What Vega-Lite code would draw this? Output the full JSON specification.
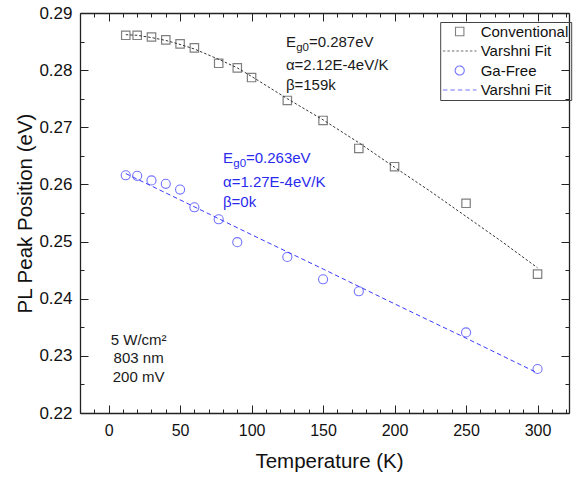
{
  "$schema": "https://vega.github.io/schema/vega-lite/v6.json",
  "width": 489,
  "height": 400,
  "autosize": {"type": "none"},
  "padding": {"left": 80, "top": 13, "right": 7, "bottom": 64},
  "config": {
    "font": "Liberation Sans",
    "view": {"stroke": null},
    "axis": {"grid": false, "domainColor": "#222", "domainWidth": 1.3, "tickColor": "#222", "tickWidth": 1, "labelColor": "#111", "titleColor": "#111", "labelFont": "Liberation Sans", "titleFont": "Liberation Sans", "titleFontWeight": "normal"},
    "legend": {"labelFont": "Liberation Sans"}
  },
  "datasets": {
    "points": [
      {"T": 12, "E": 0.2861, "series": "Conventional"},
      {"T": 20, "E": 0.2861, "series": "Conventional"},
      {"T": 30, "E": 0.2858, "series": "Conventional"},
      {"T": 40, "E": 0.2853, "series": "Conventional"},
      {"T": 50, "E": 0.2846, "series": "Conventional"},
      {"T": 60, "E": 0.2839, "series": "Conventional"},
      {"T": 77, "E": 0.2812, "series": "Conventional"},
      {"T": 90, "E": 0.2804, "series": "Conventional"},
      {"T": 100, "E": 0.2787, "series": "Conventional"},
      {"T": 125, "E": 0.2747, "series": "Conventional"},
      {"T": 150, "E": 0.2712, "series": "Conventional"},
      {"T": 175, "E": 0.2663, "series": "Conventional"},
      {"T": 200, "E": 0.2631, "series": "Conventional"},
      {"T": 250, "E": 0.2567, "series": "Conventional"},
      {"T": 300, "E": 0.2443, "series": "Conventional"},
      {"T": 12, "E": 0.2616, "series": "Ga-Free"},
      {"T": 20, "E": 0.2615, "series": "Ga-Free"},
      {"T": 30, "E": 0.2607, "series": "Ga-Free"},
      {"T": 40, "E": 0.2601, "series": "Ga-Free"},
      {"T": 50, "E": 0.2591, "series": "Ga-Free"},
      {"T": 60, "E": 0.2560, "series": "Ga-Free"},
      {"T": 77, "E": 0.2539, "series": "Ga-Free"},
      {"T": 90, "E": 0.2499, "series": "Ga-Free"},
      {"T": 125, "E": 0.2473, "series": "Ga-Free"},
      {"T": 150, "E": 0.2434, "series": "Ga-Free"},
      {"T": 175, "E": 0.2413, "series": "Ga-Free"},
      {"T": 250, "E": 0.2341, "series": "Ga-Free"},
      {"T": 300, "E": 0.2277, "series": "Ga-Free"}
    ],
    "fits": [
      {"T": 12, "E": 0.2862, "series": "Varshni Fit"},
      {"T": 20, "E": 0.2861, "series": "Varshni Fit"},
      {"T": 30, "E": 0.2857, "series": "Varshni Fit"},
      {"T": 40, "E": 0.2852, "series": "Varshni Fit"},
      {"T": 50, "E": 0.2845, "series": "Varshni Fit"},
      {"T": 60, "E": 0.2837, "series": "Varshni Fit"},
      {"T": 77, "E": 0.2819, "series": "Varshni Fit"},
      {"T": 90, "E": 0.2804, "series": "Varshni Fit"},
      {"T": 100, "E": 0.2789, "series": "Varshni Fit"},
      {"T": 125, "E": 0.2750, "series": "Varshni Fit"},
      {"T": 150, "E": 0.2713, "series": "Varshni Fit"},
      {"T": 175, "E": 0.2673, "series": "Varshni Fit"},
      {"T": 200, "E": 0.2630, "series": "Varshni Fit"},
      {"T": 225, "E": 0.2588, "series": "Varshni Fit"},
      {"T": 250, "E": 0.2544, "series": "Varshni Fit"},
      {"T": 275, "E": 0.2500, "series": "Varshni Fit"},
      {"T": 300, "E": 0.2454, "series": "Varshni Fit"},
      {"T": 12, "E": 0.2619, "series": "Varshni Fit "},
      {"T": 50, "E": 0.2573, "series": "Varshni Fit "},
      {"T": 100, "E": 0.2512, "series": "Varshni Fit "},
      {"T": 150, "E": 0.2452, "series": "Varshni Fit "},
      {"T": 200, "E": 0.2391, "series": "Varshni Fit "},
      {"T": 250, "E": 0.2331, "series": "Varshni Fit "},
      {"T": 300, "E": 0.2270, "series": "Varshni Fit "}
    ],
    "notes": [
      {"T": 124, "E": 0.2841, "text": "E", "series": "Conventional", "kind": "E"},
      {"T": 124, "E": 0.2841, "text": "g0", "series": "Conventional", "kind": "sub"},
      {"T": 124, "E": 0.2841, "text": "=0.287eV", "series": "Conventional", "kind": "rest"},
      {"T": 124, "E": 0.2800, "text": "α=2.12E-4eV/K", "series": "Conventional", "kind": "plain"},
      {"T": 124, "E": 0.2765, "text": "β=159k", "series": "Conventional", "kind": "plain"},
      {"T": 80, "E": 0.2637, "text": "E", "series": "Ga-Free", "kind": "E"},
      {"T": 80, "E": 0.2637, "text": "g0", "series": "Ga-Free", "kind": "sub"},
      {"T": 80, "E": 0.2637, "text": "=0.263eV", "series": "Ga-Free", "kind": "rest"},
      {"T": 80, "E": 0.2596, "text": "α=1.27E-4eV/K", "series": "Ga-Free", "kind": "plain"},
      {"T": 80, "E": 0.2561, "text": "β=0k", "series": "Ga-Free", "kind": "plain"}
    ],
    "cond": [
      {"T": 21, "E": 0.2319, "text": "5 W/cm²"},
      {"T": 21, "E": 0.2288, "text": "803 nm"},
      {"T": 21, "E": 0.2255, "text": "200 mV"}
    ]
  },
  "layer": [
    {
      "data": {"name": "points"},
      "transform": [{"filter": "datum.series == 'Conventional'"}],
      "mark": {"type": "point", "filled": false, "size": 1130, "strokeWidth": 1.2},
      "encoding": {
        "x": {"field": "T", "type": "quantitative", "scale": {"domain": [-20, 322], "nice": false, "zero": false},
          "axis": {"orient": "bottom", "values": [0, 50, 100, 150, 200, 250, 300], "tickSize": -8, "labelPadding": 17, "labelFontSize": 16, "title": "Temperature (K)", "titleFontSize": 20.5, "titleX": 249, "titleY": 54, "titleBaseline": "alphabetic", "titleAnchor": "middle", "titleAlign": "center"}},
        "y": {"field": "E", "type": "quantitative", "scale": {"domain": [0.22, 0.29], "nice": false, "zero": false},
          "axis": {"orient": "left", "values": [0.22, 0.23, 0.24, 0.25, 0.26, 0.27, 0.28, 0.29], "format": ".2f", "tickSize": -8, "labelPadding": 16, "labelFontSize": 17, "title": "PL Peak Position (eV)", "titleFontSize": 20.5, "titleX": -49, "titleY": 200, "titleAngle": 270, "titleBaseline": "alphabetic", "titleAlign": "center"}},
        "stroke": {"field": "series", "type": "nominal", "scale": {"domain": ["Conventional", "Varshni Fit", "Ga-Free", "Varshni Fit "], "range": ["#4a4a4a", "#333333", "#3a3aff", "#3a3aff"]},
          "legend": {"title": null, "orient": "none", "legendX": 360.2, "legendY": 9, "strokeColor": "#444", "padding": 2, "labelFontSize": 15, "labelColor": "#111", "symbolSize": 1130, "symbolStrokeWidth": 1.1, "symbolOffset": 0, "labelOffset": 3.5, "rowPadding": 3.5, "clipHeight": 15, "labelLimit": 200}},
        "shape": {"field": "series", "type": "nominal", "scale": {"domain": ["Conventional", "Varshni Fit", "Ga-Free", "Varshni Fit "], "range": ["M-0.25,-0.25H0.25V0.25H-0.25Z", "M-1,0H1", "M0.27,0A0.27,0.27,0,1,1,-0.27,0A0.27,0.27,0,1,1,0.27,0Z", "M-1,0H1"]},
          "legend": {"title": null, "orient": "none", "legendX": 360.2, "legendY": 9}}
      }
    },
    {
      "data": {"name": "points"},
      "transform": [{"filter": "datum.series == 'Ga-Free'"}],
      "mark": {"type": "point", "filled": false, "size": 1130, "strokeWidth": 1.1},
      "encoding": {
        "x": {"field": "T", "type": "quantitative", "scale": {"domain": [-20, 322], "nice": false, "zero": false},
          "axis": {"orient": "top", "values": [0, 50, 100, 150, 200, 250, 300], "tickSize": -8, "labels": false, "title": null}},
        "y": {"field": "E", "type": "quantitative", "scale": {"domain": [0.22, 0.29], "nice": false, "zero": false},
          "axis": {"orient": "right", "values": [0.22, 0.23, 0.24, 0.25, 0.26, 0.27, 0.28, 0.29], "tickSize": -8, "labels": false, "title": null}},
        "stroke": {"field": "series", "type": "nominal", "scale": {"domain": ["Conventional", "Varshni Fit", "Ga-Free", "Varshni Fit "], "range": ["#4a4a4a", "#333333", "#3a3aff", "#3a3aff"]}},
        "shape": {"field": "series", "type": "nominal", "scale": {"domain": ["Conventional", "Varshni Fit", "Ga-Free", "Varshni Fit "], "range": ["M-0.25,-0.25H0.25V0.25H-0.25Z", "M-1,0H1", "M0.27,0A0.27,0.27,0,1,1,-0.27,0A0.27,0.27,0,1,1,0.27,0Z", "M-1,0H1"]}}
      }
    },
    {
      "data": {"name": "fits"},
      "transform": [{"filter": "datum.series == 'Varshni Fit'"}],
      "mark": {"type": "line", "strokeWidth": 1},
      "encoding": {
        "x": {"field": "T", "type": "quantitative", "scale": {"domain": [-20, 322], "nice": false, "zero": false},
          "axis": {"orient": "bottom", "values": [-20, -10, 10, 20, 30, 40, 60, 70, 80, 90, 110, 120, 130, 140, 160, 170, 180, 190, 210, 220, 230, 240, 260, 270, 280, 290, 310, 320], "tickSize": -4, "labels": false, "domain": false, "title": null}},
        "y": {"field": "E", "type": "quantitative", "scale": {"domain": [0.22, 0.29], "nice": false, "zero": false},
          "axis": {"orient": "left", "values": [0.225, 0.235, 0.245, 0.255, 0.265, 0.275, 0.285], "tickSize": -4, "labels": false, "domain": false, "title": null}},
        "stroke": {"field": "series", "type": "nominal", "scale": {"domain": ["Conventional", "Varshni Fit", "Ga-Free", "Varshni Fit "], "range": ["#4a4a4a", "#333333", "#3a3aff", "#3a3aff"]}},
        "strokeDash": {"field": "series", "type": "nominal", "scale": {"domain": ["Conventional", "Varshni Fit", "Ga-Free", "Varshni Fit "], "range": [[1, 0], [2.5, 2], [1, 0], [4.5, 3]]}}
      }
    },
    {
      "data": {"name": "fits"},
      "transform": [{"filter": "datum.series == 'Varshni Fit '"}],
      "mark": {"type": "line", "strokeWidth": 1},
      "encoding": {
        "x": {"field": "T", "type": "quantitative", "scale": {"domain": [-20, 322], "nice": false, "zero": false},
          "axis": {"orient": "top", "values": [-20, -10, 10, 20, 30, 40, 60, 70, 80, 90, 110, 120, 130, 140, 160, 170, 180, 190, 210, 220, 230, 240, 260, 270, 280, 290, 310, 320], "tickSize": -4, "labels": false, "domain": false, "title": null}},
        "y": {"field": "E", "type": "quantitative", "scale": {"domain": [0.22, 0.29], "nice": false, "zero": false},
          "axis": {"orient": "right", "values": [0.225, 0.235, 0.245, 0.255, 0.265, 0.275, 0.285], "tickSize": -4, "labels": false, "domain": false, "title": null}},
        "stroke": {"field": "series", "type": "nominal", "scale": {"domain": ["Conventional", "Varshni Fit", "Ga-Free", "Varshni Fit "], "range": ["#4a4a4a", "#333333", "#3a3aff", "#3a3aff"]}},
        "strokeDash": {"field": "series", "type": "nominal", "scale": {"domain": ["Conventional", "Varshni Fit", "Ga-Free", "Varshni Fit "], "range": [[1, 0], [2.5, 2], [1, 0], [4.5, 3]]}}
      }
    },
    {
      "data": {"name": "notes"},
      "transform": [{"filter": "datum.kind == 'E' || datum.kind == 'plain'"}],
      "mark": {"type": "text", "align": "left", "baseline": "alphabetic", "fontSize": 15},
      "encoding": {
        "x": {"field": "T", "type": "quantitative", "axis": null},
        "y": {"field": "E", "type": "quantitative", "axis": null},
        "text": {"field": "text"},
        "fill": {"field": "series", "type": "nominal", "scale": {"domain": ["Conventional", "Ga-Free"], "range": ["#1a1a1a", "#2a2aee"]}, "legend": null}
      }
    },
    {
      "data": {"name": "notes"},
      "transform": [{"filter": "datum.kind == 'sub'"}],
      "mark": {"type": "text", "align": "left", "baseline": "alphabetic", "fontSize": 11.5, "dx": 10.3, "dy": 4},
      "encoding": {
        "x": {"field": "T", "type": "quantitative", "axis": null},
        "y": {"field": "E", "type": "quantitative", "axis": null},
        "text": {"field": "text"},
        "fill": {"field": "series", "type": "nominal", "scale": {"domain": ["Conventional", "Ga-Free"], "range": ["#1a1a1a", "#2a2aee"]}, "legend": null}
      }
    },
    {
      "data": {"name": "notes"},
      "transform": [{"filter": "datum.kind == 'rest'"}],
      "mark": {"type": "text", "align": "left", "baseline": "alphabetic", "fontSize": 15, "dx": 23},
      "encoding": {
        "x": {"field": "T", "type": "quantitative", "axis": null},
        "y": {"field": "E", "type": "quantitative", "axis": null},
        "text": {"field": "text"},
        "fill": {"field": "series", "type": "nominal", "scale": {"domain": ["Conventional", "Ga-Free"], "range": ["#1a1a1a", "#2a2aee"]}, "legend": null}
      }
    },
    {
      "data": {"name": "cond"},
      "mark": {"type": "text", "align": "center", "baseline": "alphabetic", "fontSize": 15, "color": "#1a1a1a"},
      "encoding": {
        "x": {"field": "T", "type": "quantitative", "axis": null},
        "y": {"field": "E", "type": "quantitative", "axis": null},
        "text": {"field": "text"}
      }
    }
  ],
  "resolve": {"axis": {"x": "independent", "y": "independent"}}
}
